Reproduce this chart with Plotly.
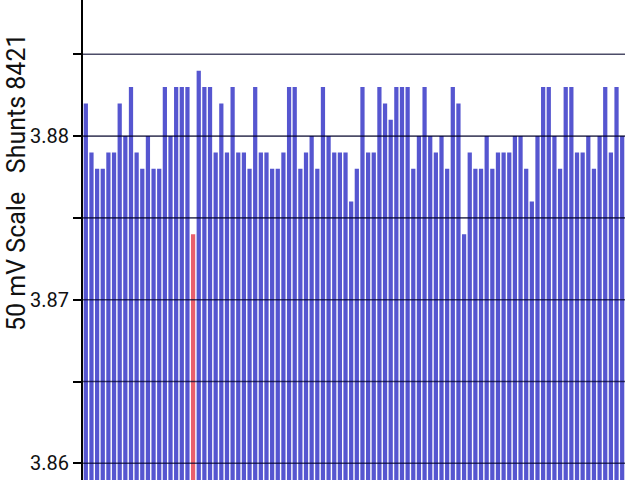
import plotly.graph_objects as go

# ---- data ----
bar_index = list(range(1, 97))
values = [
    3.882, 3.879, 3.878, 3.878, 3.879, 3.879, 3.882, 3.880, 3.883, 3.879,
    3.878, 3.880, 3.878, 3.878, 3.883, 3.880, 3.883, 3.883, 3.883, 3.874,
    3.884, 3.883, 3.883, 3.879, 3.882, 3.879, 3.883, 3.879, 3.879, 3.878,
    3.883, 3.879, 3.879, 3.878, 3.878, 3.879, 3.883, 3.883, 3.878, 3.879,
    3.880, 3.878, 3.883, 3.880, 3.879, 3.879, 3.879, 3.876, 3.878, 3.883,
    3.879, 3.879, 3.883, 3.882, 3.881, 3.883, 3.883, 3.883, 3.878, 3.880,
    3.883, 3.880, 3.879, 3.880, 3.878, 3.883, 3.882, 3.874, 3.879, 3.878,
    3.878, 3.880, 3.878, 3.879, 3.879, 3.879, 3.880, 3.880, 3.878, 3.876,
    3.880, 3.883, 3.883, 3.880, 3.878, 3.883, 3.883, 3.879, 3.879, 3.880,
    3.878, 3.880, 3.883, 3.879, 3.883, 3.880,
]
highlight_index = 20  # red bar
tick_values = [3.860, 3.865, 3.870, 3.875, 3.880, 3.885]
tick_labels = ["3.86", "", "3.87", "", "3.88", ""]
y_title = "50 mV Scale\u00a0\u00a0\u00a0Shunts 8421"

BLUE = "rgb(86,86,208)"
RED = "rgb(232,96,108)"
colors = [RED if i == highlight_index else BLUE for i in bar_index]

fig = go.Figure()
fig.add_trace(go.Bar(
    x=bar_index, y=values,
    marker=dict(color=colors, line=dict(width=0)),
    hoverinfo="skip",
))

# gridlines drawn above the bars
for v in tick_values:
    fig.add_shape(type="line", xref="paper", x0=0, x1=1, yref="y", y0=v, y1=v,
                  line=dict(color="rgba(0,0,40,0.7)", width=1.6), layer="above")

fig.update_layout(
    template="none",
    width=640, height=480,
    margin=dict(l=83, r=15, t=0, b=0, autoexpand=False),
    paper_bgcolor="white", plot_bgcolor="white",
    showlegend=False,
    bargap=0.25,
    font=dict(family="Roboto", color="#111111"),
    xaxis=dict(visible=False, range=[0.5, 96.5], automargin=False),
    yaxis=dict(
        range=[3.85898, 3.88832],
        automargin=False,
        tickvals=tick_values, ticktext=tick_labels,
        ticks="outside", ticklen=8, tickwidth=1.6, tickcolor="black",
        showgrid=False, zeroline=False,
        showline=True, linecolor="black", linewidth=2.2,
        tickfont=dict(size=20, family="Roboto", color="#111111"),
        layer="above traces",
    ),
    annotations=[dict(
        text=y_title, textangle=-90,
        xref="paper", yref="paper", x=0, y=1 - 182 / 480,
        xanchor="center", yanchor="middle", xshift=-67,
        showarrow=False, font=dict(size=25, family="Roboto", color="#111111"),
    )],
)

fig.write_html(
    "out.html",
    config={"displayModeBar": False},
    post_script="document.body.style.margin='0';document.body.style.overflow='hidden';",
)
